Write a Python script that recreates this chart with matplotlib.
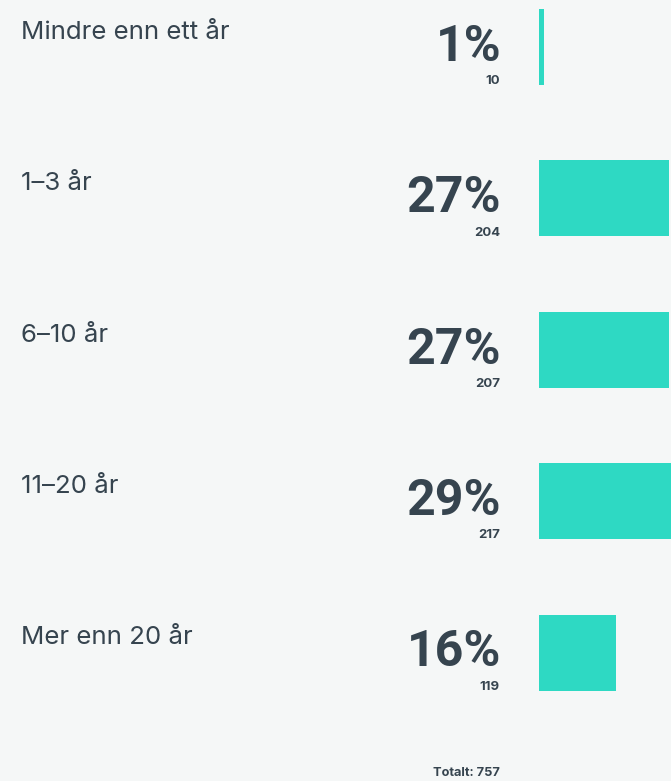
import matplotlib
matplotlib.use("Agg")
import matplotlib.pyplot as plt
from matplotlib.transforms import blended_transform_factory

categories = ["Mindre enn ett år", "1–3 år", "6–10 år", "11–20 år", "Mer enn 20 år"]
percents = [1, 27, 27, 29, 16]
counts = [10, 204, 207, 217, 119]
total_label = "Totalt: 757"

BG = "#F5F7F7"
BAR = "#2ED9C3"
TXT = "#36444F"

W, H = 671, 781
fig = plt.figure(figsize=(W / 100, H / 100), dpi=100, facecolor=BG)

# bar axes: from x=539px to right edge, full height
ax = fig.add_axes([539 / W, 0, (W - 539) / W, 1])
ax.set_facecolor(BG)
pitch = 151.5
c0 = 46.5
ax.set_ylim((H - c0) / pitch, -c0 / pitch)
px_per_pct = 4.81
ax.set_xlim(0, (W - 539) / px_per_pct)
ax.barh(range(len(categories)), percents, height=76 / pitch, color=BAR, left=0)
ax.axis("off")

trans = blended_transform_factory(fig.transFigure, ax.transData)
fam = ["Inter", "DejaVu Sans"]
fam2 = ["Roboto", "DejaVu Sans"]
for i, (cat, p, n) in enumerate(zip(categories, percents, counts)):
    ax.text(21 / W, i - 8 / pitch, cat, transform=trans, ha="left", va="baseline",
            fontsize=18.6, color=TXT, family=fam, clip_on=False)
    ax.text(501 / W, i + 14 / pitch, f"{p}%", transform=trans, ha="right", va="baseline",
            fontsize=36, fontweight="bold", color=TXT, family=fam2, clip_on=False)
    ax.text(500 / W, i + 37.5 / pitch, f"{n}", transform=trans, ha="right", va="baseline",
            fontsize=9.5, fontweight="bold", color=TXT, family=fam, clip_on=False)

fig.text(500 / W, 1 - 776 / H, total_label, ha="right", va="baseline",
         fontsize=9.2, fontweight="bold", color=TXT, family=fam)

fig.savefig("out.png", dpi=100, facecolor=BG)
